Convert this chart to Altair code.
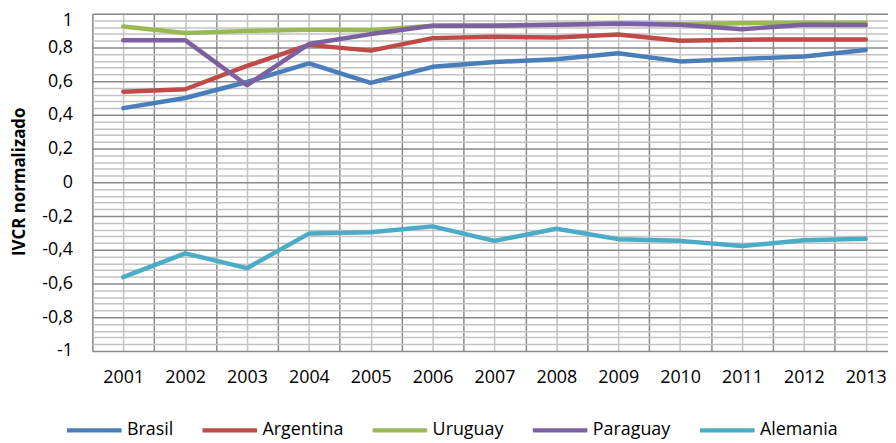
import altair as alt
import pandas as pd

years = list(range(2001, 2014))
countries = ["Brasil", "Argentina", "Uruguay", "Paraguay", "Alemania"]
colors = ["#4a7ebb", "#be4b48", "#98b954", "#7d60a0", "#4bacc6"]

brasil = [0.44, 0.50, 0.595, 0.705, 0.59, 0.685, 0.713, 0.73, 0.765, 0.717, 0.732, 0.746, 0.785]
argentina = [0.537, 0.552, 0.69, 0.815, 0.781, 0.855, 0.863, 0.859, 0.877, 0.84, 0.846, 0.847, 0.847]
uruguay = [0.924, 0.885, 0.898, 0.904, 0.902, 0.928, 0.93, 0.935, 0.943, 0.937, 0.943, 0.947, 0.947]
paraguay = [0.843, 0.843, 0.576, 0.82, 0.879, 0.928, 0.928, 0.934, 0.94, 0.934, 0.908, 0.934, 0.933]
alemania = [-0.562, -0.421, -0.509, -0.304, -0.296, -0.261, -0.347, -0.275, -0.337, -0.347, -0.378, -0.343, -0.335]

series = [brasil, argentina, uruguay, paraguay, alemania]
rows = []
for ci, (name, vals) in enumerate(zip(countries, series)):
    for y, v in zip(years, vals):
        rows.append({"year": y, "value": v, "country": name, "k": ci})
df = pd.DataFrame(rows)

x_vals = [2000.5 + 0.5 * i for i in range(26)]
y_vals = [round(-1 + 0.04 * i, 2) for i in range(51)]

FONT = "Open Sans"
major_y = "abs(datum.value*5 - round(datum.value*5)) < 0.001"

chart = alt.Chart(df).mark_line(strokeWidth=4.5, strokeJoin="round", strokeCap="round").encode(
    x=alt.X("year:Q",
            scale=alt.Scale(domain=[2000.5, 2013.36], nice=False, zero=False),
            axis=alt.Axis(values=x_vals, title=None, grid=True, domain=False, ticks=False,
                          gridColor={"condition": {"test": "datum.value % 1 == 0", "value": "#c3c3c3"}, "value": "#8a8a8a"},
                          gridWidth=1.5,
                          labelExpr="datum.value % 1 == 0 ? format(datum.value, 'd') : ''",
                          labelFont=FONT, labelFontSize=18, labelColor="#000000",
                          labelPadding=18, labelFlush=False, labelOverlap=False)),
    y=alt.Y("value:Q",
            scale=alt.Scale(domain=[-1, 1], nice=False, zero=False),
            axis=alt.Axis(values=y_vals, title="IVCR normalizado", grid=True, domain=False, ticks=False,
                          gridColor={"condition": {"test": major_y, "value": "#8a8a8a"}, "value": "#c3c3c3"},
                          gridWidth=1.5,
                          labelExpr="(" + major_y + ") ? ((datum.value < -0.001 ? '-' : '') + replace(format(abs(datum.value), '.1~f'), '.', ',')) : ''",
                          labelOffset={"condition": {"test": "datum.value > 0.99", "value": 7}, "value": 0},
                          labelFont=FONT, labelFontSize=18, labelColor="#000000",
                          labelPadding=20, labelOverlap=False,
                          titleFont=FONT, titleFontSize=17, titleFontWeight="bold", titleColor="#000000",
                          titleX=-73, titleY=169, titleBaseline="middle", titleAngle=270)),
    color=alt.Color("country:N",
                    scale=alt.Scale(domain=countries, range=colors),
                    sort=countries,
                    legend=alt.Legend(title=None, orient="none", legendX=-28, legendY=390,
                                      direction="horizontal", symbolType="stroke",
                                      symbolSize=3025, symbolStrokeWidth=4.5,
                                      labelFont=FONT, labelFontSize=18, labelColor="#000000",
                                      labelOffset=3, columnPadding=19.5)),
    detail="k:O",
).properties(
    width=802, height=340,
    autosize=alt.AutoSizeParams(type="none"),
    padding={"left": 85, "top": 4, "right": 0, "bottom": 88},
).configure_view(stroke=None).configure(background="white")

chart.save("out.html", embed_options={"renderer": "svg", "actions": False})
